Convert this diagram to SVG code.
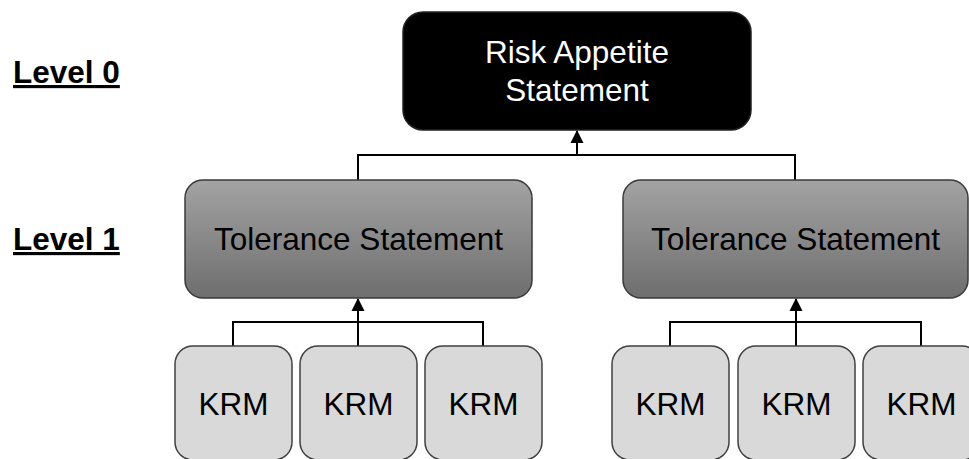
<svg xmlns="http://www.w3.org/2000/svg" width="969" height="459" viewBox="0 0 969 459">
<style>
.lbl{font-family:"Liberation Sans",Arial,sans-serif;font-size:31.5px;font-weight:bold;fill:#000;text-decoration:underline;}
.txt{font-family:"Liberation Sans",Arial,sans-serif;font-size:31.5px;text-anchor:middle;}
.wt{fill:#fff;}
.tol{fill:url(#g);stroke:#3a3a3a;stroke-width:1.5;}
.krm{fill:#d9d9d9;stroke:#404040;stroke-width:1.5;}
.c{fill:none;stroke:#000;stroke-width:2;}
</style>
<defs>
<linearGradient id="g" x1="0" y1="0" x2="0" y2="1">
<stop offset="0" stop-color="#a3a3a3"/>
<stop offset="1" stop-color="#6e6e6e"/>
</linearGradient>
<marker id="a" markerWidth="14" markerHeight="14" refX="12" refY="7" orient="auto" markerUnits="userSpaceOnUse">
<path d="M0,0.5 L13,7 L0,13.5 Z" fill="#000"/>
</marker>
</defs>
<g id="labels">
<text class="lbl" x="13" y="83">Level 0</text>
<text class="lbl" x="13" y="250">Level 1</text>
</g>
<g id="connectors">
<path class="c" d="M358,180 V155 H795 V180"/>
<path class="c" d="M577,155 V131" marker-end="url(#a)"/>
<path class="c" d="M233,346 V322 H483 V346"/>
<path class="c" d="M358,346 V299" marker-end="url(#a)"/>
<path class="c" d="M670,346 V322 H921 V346"/>
<path class="c" d="M796,346 V299" marker-end="url(#a)"/>
</g>
<g id="risk-appetite">
<rect x="403" y="12" width="348" height="118" rx="20" fill="#000" stroke="#222" stroke-width="1.5"/>
<text class="txt wt" x="577" y="63">Risk Appetite</text>
<text class="txt wt" x="577" y="101">Statement</text>
</g>
<g id="tolerance-1">
<rect class="tol" x="185" y="180" width="347" height="118" rx="18"/>
<text class="txt" x="358.5" y="250">Tolerance Statement</text>
</g>
<g id="tolerance-2">
<rect class="tol" x="623" y="180" width="345" height="118" rx="18"/>
<text class="txt" x="795.5" y="250">Tolerance Statement</text>
</g>
<g id="krm-1"><rect class="krm" x="175" y="346" width="117" height="114" rx="18"/><text class="txt" x="233.5" y="415">KRM</text></g>
<g id="krm-2"><rect class="krm" x="300" y="346" width="117" height="114" rx="18"/><text class="txt" x="358.5" y="415">KRM</text></g>
<g id="krm-3"><rect class="krm" x="425" y="346" width="117" height="114" rx="18"/><text class="txt" x="483.5" y="415">KRM</text></g>
<g id="krm-4"><rect class="krm" x="612" y="346" width="117" height="114" rx="18"/><text class="txt" x="670.5" y="415">KRM</text></g>
<g id="krm-5"><rect class="krm" x="738" y="346" width="117" height="114" rx="18"/><text class="txt" x="796.5" y="415">KRM</text></g>
<g id="krm-6"><rect class="krm" x="863" y="346" width="117" height="114" rx="18"/><text class="txt" x="921.5" y="415">KRM</text></g>
</svg>
